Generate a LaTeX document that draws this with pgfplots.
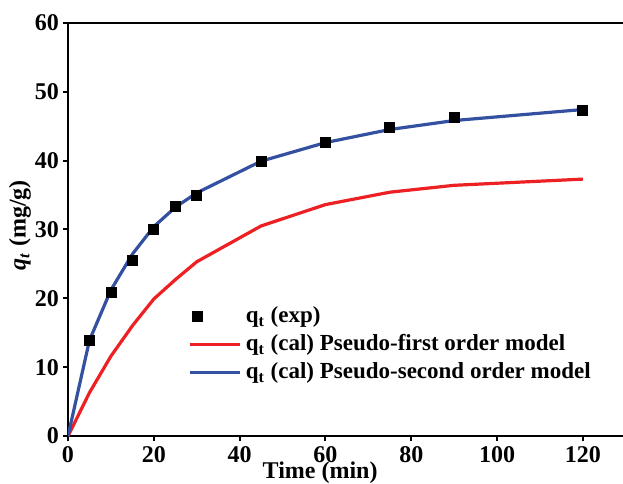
\documentclass[border=0pt]{standalone}
\usepackage{fontspec}
\setmainfont{Liberation Serif}
\usepackage{pgfplots}
\pgfplotsset{compat=1.18}
\definecolor{myred}{RGB}{237,32,36}
\definecolor{myblue}{RGB}{52,80,160}
\pgfplotsset{
  legline/.style={legend image code/.code={\draw[##1] (0cm,0cm) -- (0.88cm,0cm);}},
  legmark/.style={legend image code/.code={\draw[##1] plot coordinates {(0.12cm,0cm)};}},
}
\begin{document}
\begin{tikzpicture}[font=\fontsize{12}{14}\selectfont\bfseries]
\begin{axis}[
  scale only axis, width=278.9pt, height=206.7pt,
  xmin=0, xmax=130, ymin=0, ymax=60,
  xtick={0,20,...,120}, ytick={0,10,...,60},
  tick align=outside, tick pos=left,
  major tick length=2.5pt,
  axis line style={line width=1pt},
  every tick/.style={black, line width=1pt},
  /pgf/number format/assume math mode=true,
  ticklabel style={font=\fontsize{12}{14}\selectfont\bfseries},
  yticklabel style={xshift=1.5pt},
  xticklabel style={inner sep=1pt, yshift=-1.5pt},
  xlabel={Time (min)},
  ylabel={\textit{q}\textsubscript{\textit{t}} (mg/g)},
  xlabel style={at={(axis description cs:0.452,0)}, anchor=base, yshift=-21.3pt, inner sep=1pt},
  ylabel style={at={(axis description cs:-0.086,0.51)}, anchor=center},
  legend style={at={(axis cs:26.6,20)}, anchor=north west, draw=none, fill=none,
    font=\fontsize{11.5}{13.5}\selectfont\bfseries, row sep=0.5pt},
  legend cell align=left,
]
\addplot[only marks, mark=square*, mark size=2.5pt, black, legmark]
  coordinates {(5,13.9) (10,20.85) (15,25.5) (20,30.0) (25,33.4) (30,34.9)
   (45,39.9) (60,42.7) (75,44.8) (90,46.2) (120,47.3)};
\addlegendentry{q\textsubscript{t} (exp)}
\addplot[myred, line width=1.6pt, mark=none, legline]
  coordinates {(0,0) (5,6.3) (10,11.6) (15,16.0) (20,19.9) (25,22.7) (30,25.3)
   (45,30.5) (60,33.6) (75,35.4) (90,36.4) (120,37.3)};
\addlegendentry{q\textsubscript{t} (cal) Pseudo-first order model}
\addplot[myblue, line width=1.6pt, mark=none, legline]
  coordinates {(0,0) (5,13.9) (10,21.2) (15,26.4) (20,30.4) (25,33.2) (30,35.3)
   (45,39.9) (60,42.6) (75,44.5) (90,45.8) (120,47.4)};
\addlegendentry{q\textsubscript{t} (cal) Pseudo-second order model}
\end{axis}
\pgfresetboundingbox
\useasboundingbox (-34pt,-23.6pt) rectangle (277.5pt,218.05pt);
\end{tikzpicture}
\end{document}
